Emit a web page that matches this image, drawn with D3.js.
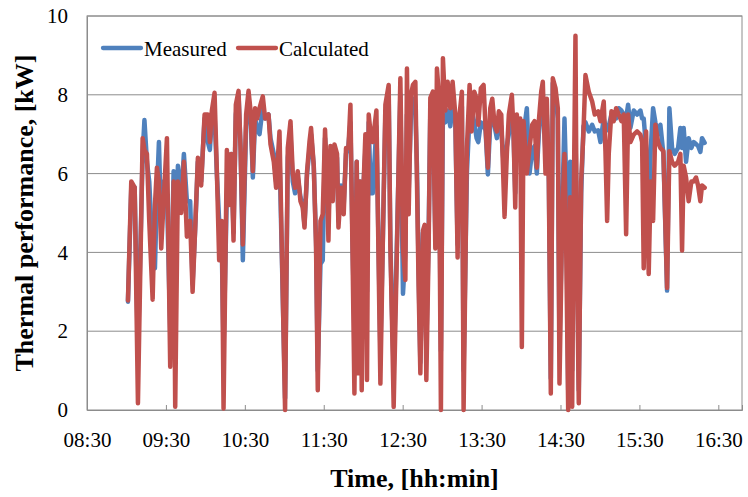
<!DOCTYPE html>
<html>
<head>
<meta charset="utf-8">
<script src="https://cdn.jsdelivr.net/npm/d3@7"></script>
<style>
  body { margin: 0; background: #fff; }
  svg text { font-family: "Liberation Serif", "Times New Roman", serif !important; fill: #000; }
</style>
</head>
<body>
<svg id="chart" width="748" height="497"></svg>
<script>
// time stamps of the samples (hh:mm:ss)
const times = [
  "09:01:08","09:03:39","09:06:14","09:08:44","09:12:18","09:13:40","09:15:34","09:17:19","09:19:54","09:21:39",
  "09:23:10","09:24:41","09:26:26","09:28:15","09:30:46","09:33:16","09:35:51","09:37:04","09:39:07","09:41:37",
  "09:43:40","09:45:57","09:48:27","09:50:17","09:52:15","09:54:18","09:56:49","09:59:24","10:01:54","10:03:25",
  "10:04:56","10:06:59","10:08:44","10:10:29","10:12:32","10:13:49","10:16:20","10:18:05","10:19:36","10:21:25",
  "10:23:10","10:25:13","10:26:44","10:28:29","10:30:59","10:32:49","10:34:20","10:36:05","10:37:49","10:39:21",
  "10:41:10","10:43:40","10:45:25","10:48:00","10:49:31","10:52:02","10:53:46","10:56:21","11:00:36","11:02:39",
  "11:04:43","11:06:27","11:08:12","11:10:15","11:12:18","11:14:03","11:15:21","11:17:19","11:19:08","11:20:21",
  "11:22:24","11:24:09","11:25:27","11:27:30","11:29:14","11:30:59","11:32:30","11:33:34","11:35:05","11:36:50",
  "11:38:08","11:40:06","11:41:10","11:43:08","11:45:11","11:46:56","11:48:46","11:50:17","11:52:02","11:53:19",
  "11:55:04","11:56:21","11:57:34","11:58:52","12:00:23","12:01:40","12:02:53","12:04:11","12:05:42","12:07:13",
  "12:10:02","12:11:46","12:13:04","12:15:02","12:16:52","12:19:22","12:20:39","12:21:52","12:23:10","12:25:40",
  "12:28:15","12:30:14","12:32:03","12:33:16","12:34:33","12:36:18","12:37:49","12:39:39","12:40:52","12:42:09",
  "12:43:27","12:45:25","12:46:43","12:48:00","12:49:45","12:51:02","12:53:01","12:54:50","12:56:03","12:57:21",
  "12:59:05","13:00:36","13:02:26","13:04:11","13:06:14","13:07:58","13:10:02","13:11:46","13:13:17","13:15:02",
  "13:16:20","13:18:50","13:20:53","13:22:24","13:24:27","13:26:12","13:27:30","13:29:28","13:31:31","13:33:02",
  "13:34:47","13:36:36","13:38:08","13:39:52","13:41:37","13:43:08","13:44:58","13:46:11","13:47:28","13:49:13",
  "13:50:44","13:53:01","13:54:18","13:55:36","13:56:49","13:58:20","13:59:24","14:00:36","14:01:54","14:04:24",
  "14:06:27","14:08:30","14:10:15","14:12:00","14:13:31","14:15:21","14:16:33","14:18:36","14:19:36","14:21:07",
  "14:22:38","14:24:09","14:26:12","14:27:57","14:29:14","14:31:17","14:33:02","14:34:20","14:35:51","14:37:22",
  "14:38:53","14:39:52","14:41:23","14:42:23","14:43:54","14:45:43","14:47:28","14:48:59","14:51:30","14:54:05",
  "14:56:03","14:58:38","15:00:23","15:02:53","15:04:11","15:05:28","15:06:41","15:08:44","15:10:29","15:12:18",
  "15:14:17","15:16:20","15:18:05","15:19:54","15:21:25","15:23:10","15:25:40","15:28:15","15:30:46","15:32:03",
  "15:33:16","15:35:05","15:37:04","15:38:35","15:40:24","15:42:09","15:44:12","15:45:57","15:48:14","15:51:02",
  "15:52:47","15:54:50","15:56:49","15:59:24","16:01:08","16:02:26","16:03:39","16:05:28","16:07:26","16:09:30",
  "16:11:14","16:13:04","16:14:35","16:16:20","16:17:37","16:19:36"
]

// thermal performance, kW
const measured = [
  2.75,5.6,5.65,1.45,6.5,7.36,6.3,5.8,4.0,3.6,
  5.5,6.8,4.6,5.8,5.5,2.0,6.06,2.88,6.2,5.4,
  6.5,5.3,5.3,3.2,4.6,6.3,5.8,7.4,6.8,6.6,
  7.4,7.5,6.0,4.8,4.0,1.5,5.5,5.5,6.5,4.5,
  7.5,8.0,6.7,3.8,7.2,7.9,7.5,5.9,7.4,7.15,
  7.0,7.7,7.4,7.5,6.9,6.5,5.8,6.5,0.3,6.4,
  7.0,5.8,5.5,5.9,5.4,5.2,4.7,6.0,6.6,7.0,
  6.2,4.3,1.0,3.7,3.8,6.9,5.9,4.8,6.6,5.6,
  6.6,6.4,4.8,5.7,5.2,6.5,6.7,7.3,4.0,2.0,
  6.3,2.5,5.8,3.0,5.8,6.6,3.0,7.3,5.5,5.5,
  7.2,4.0,1.5,4.5,7.5,8.0,4.3,2.5,1.0,4.3,
  8.0,2.95,4.0,7.5,5.5,7.5,7.9,7.6,6.2,3.5,
  1.2,4.5,4.0,1.6,4.5,7.6,7.8,4.4,7.5,7.8,
  1.5,7.5,7.3,7.6,7.2,7.7,7.3,4.2,7.2,7.7,
  1.0,6.0,7.5,7.6,7.3,6.9,6.8,7.3,7.2,7.1,
  5.98,7.3,7.5,7.2,6.9,7.3,7.2,6.5,6.0,6.7,
  7.0,7.4,7.0,5.5,7.3,6.6,7.2,5.9,7.0,7.66,
  6.0,6.6,6.7,6.0,7.0,7.6,8.0,6.5,7.5,6.0,
  0.8,8.3,8.0,7.4,1.5,5.0,7.4,5.8,0.5,6.3,
  1.0,5.5,7.0,5.0,0.5,5.5,7.2,7.3,7.07,7.24,
  7.07,7.1,6.8,7.4,7.2,7.1,7.2,7.5,7.4,7.4,
  7.66,7.6,7.5,7.4,7.75,7.16,7.6,7.5,7.6,7.4,
  7.4,6.65,5.0,6.6,7.66,7.3,7.0,7.24,6.5,3.03,
  7.66,6.65,6.5,6.65,7.16,6.65,7.16,6.3,6.9,6.65,
  6.8,6.75,6.7,6.55,6.9,6.78
]
const calculated = [
  2.78,5.8,5.65,0.17,6.9,6.6,6.5,4.8,2.8,5.2,
  6.15,5.8,4.1,5.3,6.9,1.1,5.8,0.08,5.8,5.0,
  6.3,4.4,4.8,3.0,4.6,6.4,5.7,7.5,7.5,6.8,
  7.6,8.05,6.06,3.8,4.8,0.04,6.6,5.2,6.5,4.3,
  7.75,8.1,6.65,4.2,7.5,8.1,7.6,6.06,7.66,7.4,
  7.66,7.96,7.4,7.5,6.74,6.3,5.64,7.07,0.0,6.65,
  7.33,6.0,5.64,6.06,5.3,5.14,4.63,6.06,6.8,7.16,
  6.2,4.13,0.5,4.8,4.97,7.12,5.8,4.3,6.7,5.3,
  6.74,6.5,4.63,5.64,4.97,6.65,6.65,7.75,3.6,0.42,
  6.3,0.93,5.8,0.5,5.8,7.0,0.76,7.5,7.0,6.8,
  7.6,3.6,0.67,4.5,7.75,8.25,4.13,2.27,0.08,4.1,
  8.42,4.1,3.3,8.67,4.97,8.0,8.25,8.33,5.8,3.1,
  0.93,4.55,4.7,0.76,4.13,7.92,8.08,4.1,8.67,8.08,
  0.0,8.93,7.6,8.33,7.66,8.33,7.5,3.87,7.5,8.08,
  0.0,6.65,8.25,7.07,8.08,7.9,7.24,8.17,8.25,7.16,
  6.15,7.66,7.9,7.24,7.07,7.58,7.5,6.23,4.9,6.5,
  7.5,8.0,7.07,5.14,7.5,6.5,7.4,1.6,7.33,6.0,
  6.65,7.24,7.33,6.15,7.33,8.08,8.33,6.0,7.9,5.8,
  0.42,8.42,8.17,7.66,0.67,4.8,6.5,4.1,0.0,5.4,
  0.08,4.63,9.5,4.1,0.17,5.8,7.07,8.5,8.08,7.83,
  7.5,7.58,7.33,7.83,6.57,4.8,6.5,7.58,7.33,7.66,
  7.5,7.33,7.5,4.46,7.5,6.8,6.99,7.07,6.99,6.8,
  3.6,7.07,3.45,5.8,4.8,7.24,6.8,6.65,6.57,3.1,
  6.57,6.3,6.2,6.3,6.5,4.05,6.2,5.9,5.3,5.8,
  5.8,5.9,5.7,5.3,5.7,5.64
]

const xTickLabels = ["08:30","09:30","10:30","11:30","12:30","13:30","14:30","15:30","16:30"]
const xEnd = "16:48"
const yTicks = [0, 2, 4, 6, 8, 10]
const seriesNames = ["Measured", "Calculated"]
const seriesColors = ["#4f81bd", "#c0504d"]

const width = 748, height = 497
const margin = {top: 16, right: 6, bottom: 87, left: 87}
const innerW = width - margin.left - margin.right
const innerH = height - margin.top - margin.bottom
const serif = '"Liberation Serif", "Times New Roman", serif'

const parseT = d3.timeParse("%H:%M:%S")
const parseHM = d3.timeParse("%H:%M")
const fmt = d3.timeFormat("%H:%M")

const svg = d3.select("#chart")
const g = svg.append("g").attr("transform", `translate(${margin.left},${margin.top})`)

const x = d3.scaleTime()
  .domain([parseHM(xTickLabels[0]), parseHM(xEnd)])
  .range([0, innerW])
const y = d3.scaleLinear().domain([0, 10]).range([innerH, 0])

// gridlines
g.append("g")
  .selectAll("line")
  .data(yTicks.filter(d => d > 0))
  .enter()
  .append("line")
  .attr("x1", 0).attr("x2", innerW)
  .attr("y1", d => y(d)).attr("y2", d => y(d))
  .attr("stroke", "#8c8c8c").attr("stroke-width", 1)

// plot border
g.append("rect")
  .attr("width", innerW).attr("height", innerH)
  .attr("fill", "none").attr("stroke", "#8c8c8c").attr("stroke-width", 1)

const xAxis = d3.axisBottom(x)
  .tickValues(xTickLabels.map(parseHM))
  .tickFormat(fmt)
  .tickSize(-5)
  .tickPadding(22)
g.append("g")
  .attr("transform", `translate(0,${innerH})`)
  .call(xAxis)
  .attr("font-family", null)
  .call(a => a.select(".domain").attr("stroke", "#8c8c8c"))
  .call(a => a.selectAll(".tick line").attr("stroke", "#8c8c8c"))
  .call(a => a.selectAll("text").style("font-size", "21px").style("font-family", serif))

const yAxis = d3.axisLeft(y).tickValues(yTicks).tickSize(0).tickPadding(19)
g.append("g")
  .call(yAxis)
  .attr("font-family", null)
  .call(a => a.select(".domain").attr("stroke", "#8c8c8c"))
  .call(a => a.selectAll("text").style("font-size", "21px").style("font-family", serif))

// series
const data = times.map((t, i) => ({t: parseT(t), m: measured[i], c: calculated[i]}))
const line = key => d3.line().x(d => x(d.t)).y(d => y(d[key]))

g.append("path").datum(data)
  .attr("d", line("m"))
  .attr("fill", "none").attr("stroke", seriesColors[0])
  .attr("stroke-width", 4.5).attr("stroke-linejoin", "round").attr("stroke-linecap", "round")
g.append("path").datum(data)
  .attr("d", line("c"))
  .attr("fill", "none").attr("stroke", seriesColors[1])
  .attr("stroke-width", 4.5).attr("stroke-linejoin", "round").attr("stroke-linecap", "round")

// legend
const legend = g.append("g").attr("transform", "translate(16,32)")
const legX = [0, 135]
seriesNames.forEach((name, i) => {
  legend.append("line")
    .attr("x1", legX[i]).attr("x2", legX[i] + 38)
    .attr("y1", 0).attr("y2", 0)
    .attr("stroke", seriesColors[i]).attr("stroke-width", 4.3)
    .attr("stroke-linecap", "round")
  legend.append("text")
    .attr("x", legX[i] + 41).attr("y", 8)
    .style("font-size", "21px")
    .text(name)
})

// axis titles
svg.append("text")
  .attr("x", margin.left + innerW / 2).attr("y", 487)
  .attr("text-anchor", "middle")
  .style("font-size", "26px").attr("font-weight", "bold")
  .text("Time, [hh:min]")

svg.append("text")
  .attr("transform", `translate(33,${margin.top + innerH / 2}) rotate(-90)`)
  .attr("text-anchor", "middle")
  .style("font-size", "26px").attr("font-weight", "bold")
  .text("Thermal performance, [kW]")
</script>
</body>
</html>
